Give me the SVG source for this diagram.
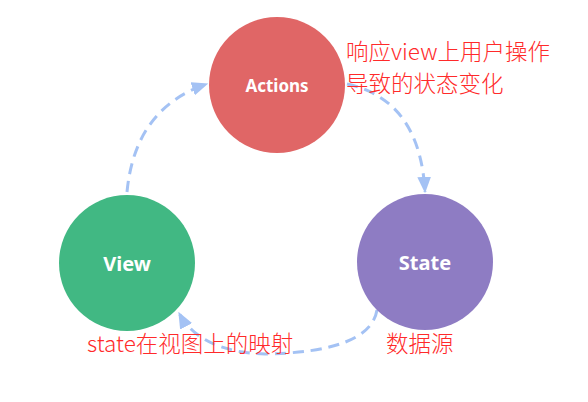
<svg xmlns="http://www.w3.org/2000/svg" width="588" height="402" viewBox="0 0 588 402">
<style>
.lbl{font-family:"Noto Sans","Open Sans","Liberation Sans",sans-serif;font-weight:bold;fill:#fff;text-anchor:middle;dominant-baseline:central}
.note{font-family:"Noto Sans CJK SC","Noto Sans",sans-serif;fill:#ff2a2a;font-size:22.5px;font-weight:300}
.conn{fill:none;stroke:#a4c2f4;stroke-width:3;stroke-dasharray:11 7}
</style>
<defs>
<marker id="ah" viewBox="0 0 12 10" refX="11" refY="5" markerWidth="5.5" markerHeight="4.6" orient="auto" markerUnits="strokeWidth">
<path d="M0,0 L12,5 L0,10 z" fill="#a4c2f4"/>
</marker>
</defs>
<rect width="588" height="402" fill="#fff"/>
<g id="connectors">
<path class="conn" d="M127,192 Q135,108 207,84" marker-end="url(#ah)"/>
<path class="conn" d="M347,84 Q420,100 425,192" marker-end="url(#ah)"/>
<path class="conn" d="M377,310 Q370,352 265,354 Q200,352 179,313" marker-end="url(#ah)"/>
</g>
<g id="actions">
<circle cx="277" cy="85" r="68" fill="#e06666"/>
<text class="lbl" x="277" y="85" font-size="17">Actions</text>
</g>
<g id="view">
<circle cx="127" cy="263" r="68" fill="#41b883"/>
<text class="lbl" x="127" y="263" font-size="20">View</text>
</g>
<g id="state">
<circle cx="425" cy="262" r="68" fill="#8e7cc3"/>
<text class="lbl" x="425" y="262" font-size="20">State</text>
</g>
<g id="notes">
<text class="note" x="346" y="60">响应view上用户操作</text>
<text class="note" x="346" y="92">导致的状态变化</text>
<text class="note" x="87" y="352">state在视图上的映射</text>
<text class="note" x="386" y="352">数据源</text>
</g>
</svg>
